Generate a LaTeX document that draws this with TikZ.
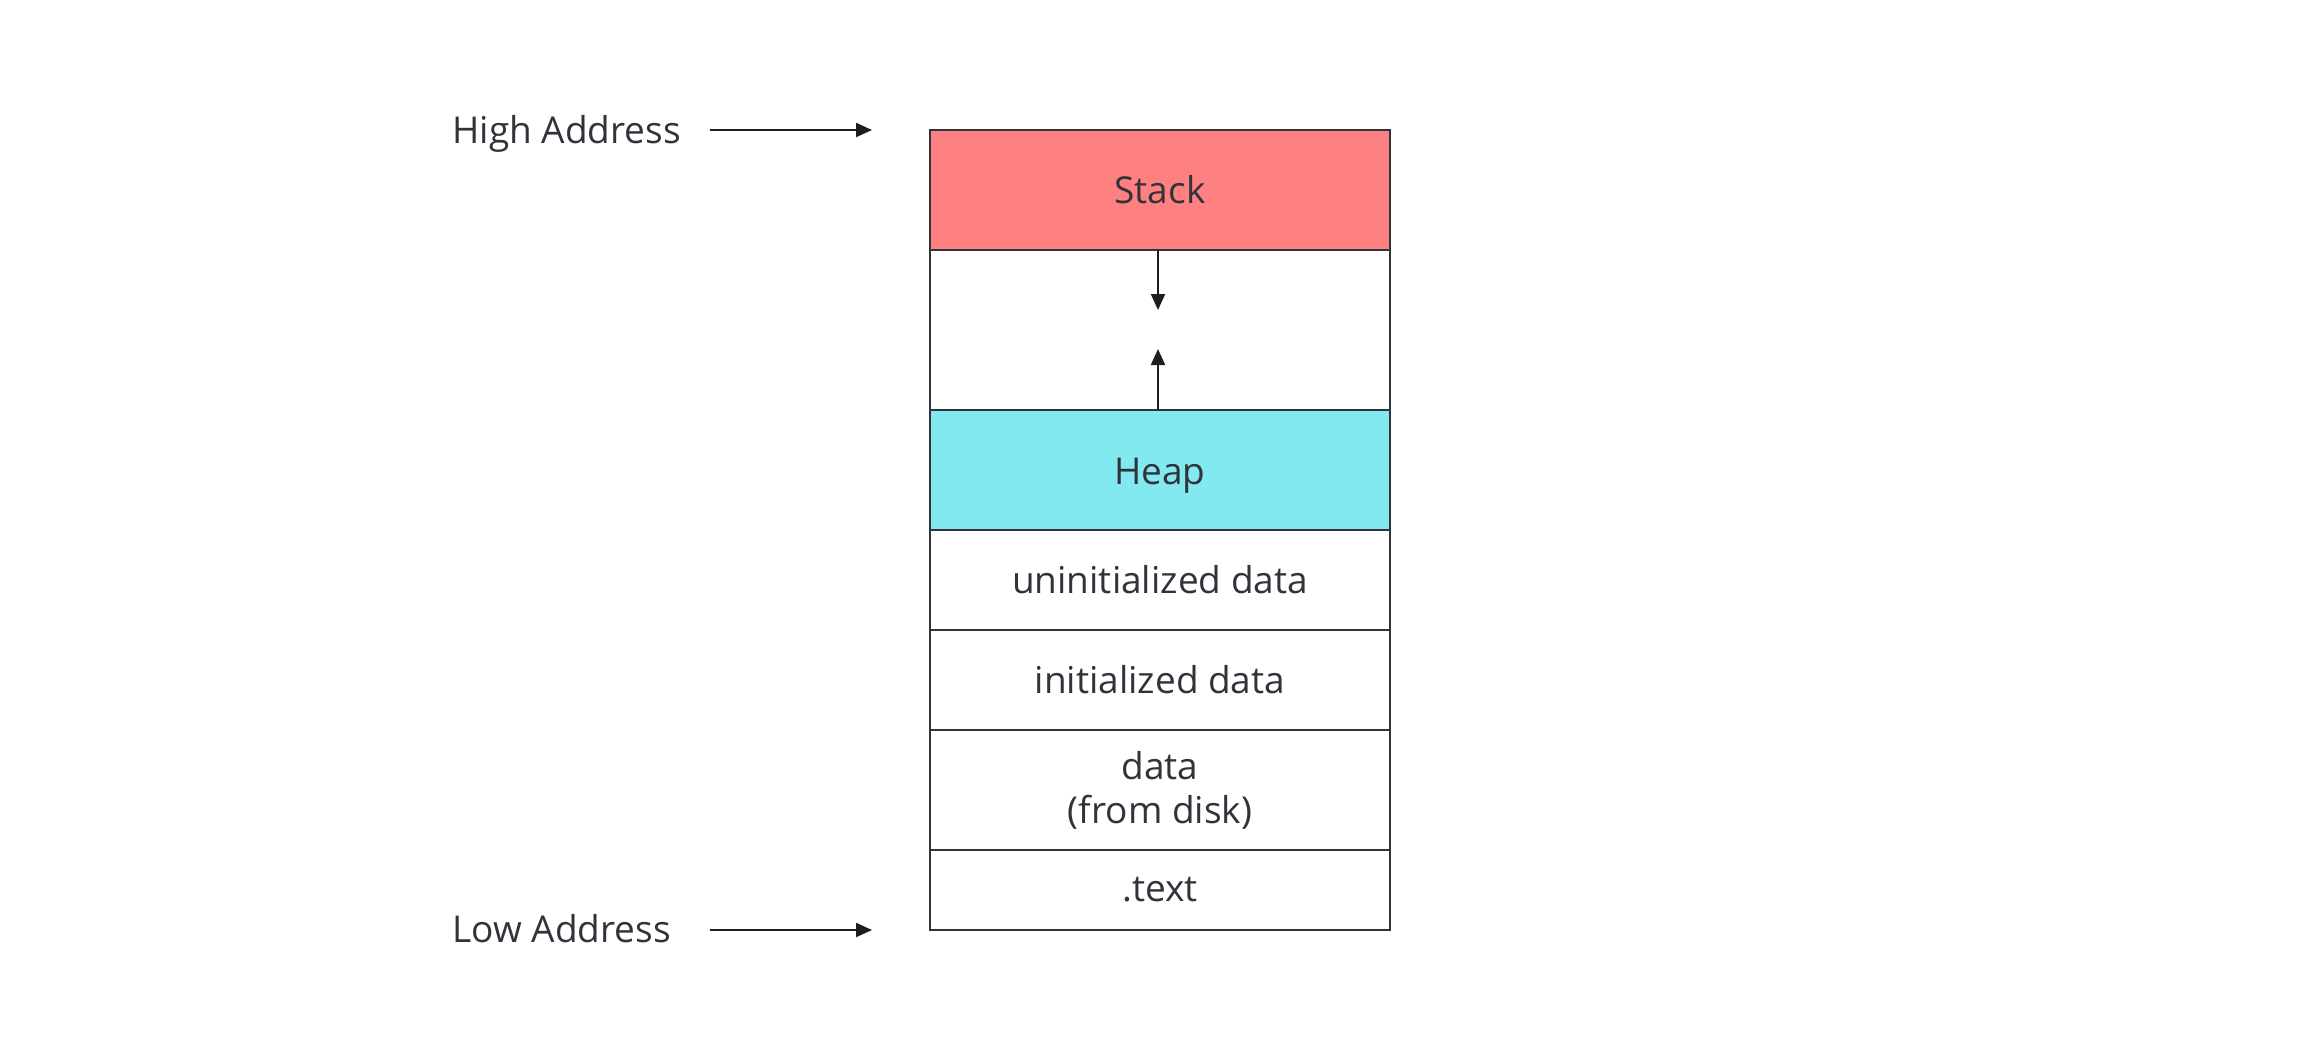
\documentclass[tikz,border=0pt]{standalone}
\usepackage{fontspec}
\setmainfont{Open Sans}
\usetikzlibrary{arrows.meta}
\definecolor{ink}{HTML}{30343A}
\definecolor{linec}{HTML}{1E1E1E}
\definecolor{stackred}{HTML}{FF8080}
\definecolor{heapcyan}{HTML}{83E9F0}
\tikzset{
  seg/.style={draw=ink, line width=1pt, minimum width=230pt, inner sep=0pt, outer sep=0pt,
    font=\fontsize{18.5}{22}\selectfont, text=ink, align=center},
  lbl/.style={font=\fontsize{18.5}{22}\selectfont, text=ink, inner sep=0pt, anchor=base west},
  arr/.style={draw=linec, line width=1pt, -{Triangle[length=8pt,width=7pt]}}
}
\begin{document}
\begin{tikzpicture}[x=0.5pt,y=-0.5pt]
\useasboundingbox[fill=white] (0,0) rectangle (2320,1060);
\node[seg, fill=stackred, minimum height=60pt] (stack) at (1160,190) {Stack};
\node[seg, fill=white, minimum height=80pt] (gap) at (1160,330) {};
\node[seg, fill=heapcyan, minimum height=60pt] (heap) at (1160,470) {\raisebox{-3pt}[\height][\depth]{Heap}};
\node[seg, fill=white, minimum height=50pt] (uninit) at (1160,580) {uninitialized data};
\node[seg, fill=white, minimum height=50pt] (init) at (1160,680) {initialized data};
\node[seg, fill=white, minimum height=60pt] (data) at (1160,790) {data\\(from disk)};
\node[seg, fill=white, minimum height=40pt] (text) at (1160,890) {.text};
\coordinate (downtip) at (1158,310);
\coordinate (uptip) at (1158,349);
\draw[arr] (stack.south -| downtip) -- (downtip);
\draw[arr] (heap.north -| uptip) -- (uptip);
\node[lbl] (high) at (452,143) {High Address};
\node[lbl] (low) at (452,942) {Low Address};
\coordinate (hs) at (710,130);
\coordinate (he) at (872,130);
\coordinate (ls) at (710,930);
\coordinate (le) at (872,930);
\draw[arr] (hs) -- (he);
\draw[arr] (ls) -- (le);
\end{tikzpicture}
\end{document}
